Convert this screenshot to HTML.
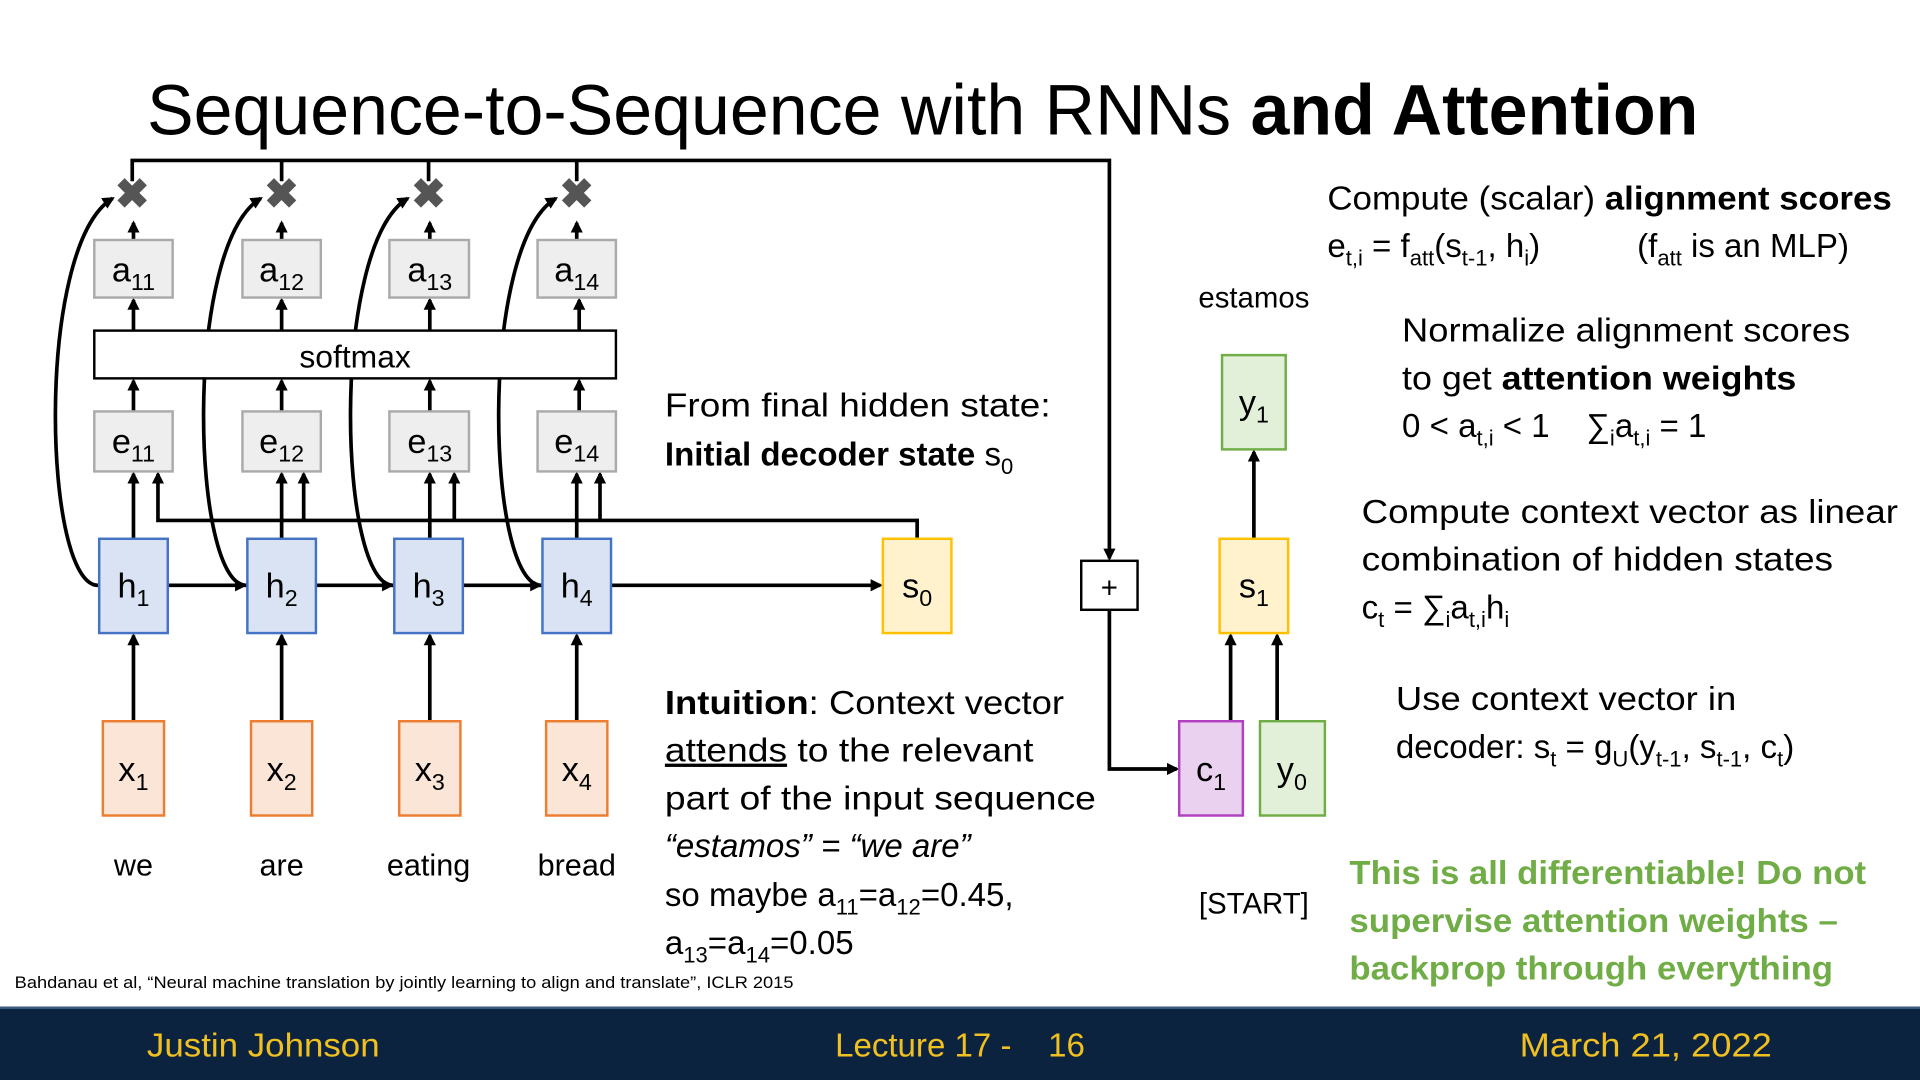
<!DOCTYPE html>
<html><head><meta charset="utf-8"><style>
html,body{margin:0;padding:0;background:#fff;}
svg{display:block;}
text{font-family:"Liberation Sans",sans-serif;fill:#000;white-space:pre;}
</style></head><body>
<svg width="1920" height="1080" viewBox="0 0 1568 882" xmlns="http://www.w3.org/2000/svg">
<defs>
<marker id="ar" markerWidth="10" markerHeight="10" refX="8" refY="5" orient="auto" markerUnits="userSpaceOnUse">
<path d="M0,0 L10,5 L0,10 z" fill="#000"/></marker>
</defs>
<rect width="1568" height="882" fill="#fff"/>
<text x="120" y="110" font-size="58" textLength="1267" lengthAdjust="spacingAndGlyphs">Sequence-to-Sequence with RNNs <tspan font-weight="bold">and Attention</tspan></text>

<g stroke="#000" stroke-width="3" fill="none">
<polyline points="108,148 108,131 906,131 906,456" marker-end="url(#ar)"/>
<line x1="230" y1="131" x2="230" y2="148"/>
<line x1="350" y1="131" x2="350" y2="148"/>
<line x1="471" y1="131" x2="471" y2="148"/>
<polyline points="906,498 906,628 961,628" marker-end="url(#ar)"/>
<line x1="109" y1="196" x2="109" y2="182" marker-end="url(#ar)"/>
<line x1="230" y1="196" x2="230" y2="182" marker-end="url(#ar)"/>
<line x1="351" y1="196" x2="351" y2="182" marker-end="url(#ar)"/>
<line x1="471" y1="196" x2="471" y2="182" marker-end="url(#ar)"/>
<line x1="109" y1="270" x2="109" y2="245" marker-end="url(#ar)"/>
<line x1="230" y1="270" x2="230" y2="245" marker-end="url(#ar)"/>
<line x1="351" y1="270" x2="351" y2="245" marker-end="url(#ar)"/>
<line x1="473" y1="270" x2="473" y2="245" marker-end="url(#ar)"/>
<line x1="109" y1="336" x2="109" y2="311" marker-end="url(#ar)"/>
<line x1="230" y1="336" x2="230" y2="311" marker-end="url(#ar)"/>
<line x1="351" y1="336" x2="351" y2="311" marker-end="url(#ar)"/>
<line x1="473" y1="336" x2="473" y2="311" marker-end="url(#ar)"/>
<line x1="109" y1="440" x2="109" y2="387" marker-end="url(#ar)"/>
<line x1="230" y1="440" x2="230" y2="387" marker-end="url(#ar)"/>
<line x1="351" y1="440" x2="351" y2="387" marker-end="url(#ar)"/>
<line x1="471" y1="440" x2="471" y2="387" marker-end="url(#ar)"/>
<polyline points="749,440 749,425 129,425 129,387" marker-end="url(#ar)"/>
<line x1="248" y1="425" x2="248" y2="387" marker-end="url(#ar)"/>
<line x1="371" y1="425" x2="371" y2="387" marker-end="url(#ar)"/>
<line x1="490" y1="425" x2="490" y2="387" marker-end="url(#ar)"/>
<line x1="137" y1="478" x2="200" y2="478" marker-end="url(#ar)"/>
<line x1="258" y1="478" x2="320" y2="478" marker-end="url(#ar)"/>
<line x1="378" y1="478" x2="441" y2="478" marker-end="url(#ar)"/>
<line x1="499" y1="478" x2="719" y2="478" marker-end="url(#ar)"/>
<line x1="109" y1="589" x2="109" y2="519" marker-end="url(#ar)"/>
<line x1="230" y1="589" x2="230" y2="519" marker-end="url(#ar)"/>
<line x1="351" y1="589" x2="351" y2="519" marker-end="url(#ar)"/>
<line x1="471" y1="589" x2="471" y2="519" marker-end="url(#ar)"/>
<path d="M81,478 C35,482 28,200 92,162" marker-end="url(#ar)"/>
<path d="M202,478 C156,482 149,200 213,162" marker-end="url(#ar)"/>
<path d="M322,478 C276,482 269,200 333,162" marker-end="url(#ar)"/>
<path d="M443,478 C397,482 390,200 454,162" marker-end="url(#ar)"/>
<line x1="1005" y1="589" x2="1005" y2="519" marker-end="url(#ar)"/>
<line x1="1043" y1="589" x2="1043" y2="519" marker-end="url(#ar)"/>
<line x1="1024" y1="440" x2="1024" y2="369" marker-end="url(#ar)"/>
</g>

<g font-size="34" font-weight="bold" text-anchor="middle">
<text x="108" y="170" style="fill:#555">✖</text>
<text x="230" y="170" style="fill:#555">✖</text>
<text x="350" y="170" style="fill:#555">✖</text>
<text x="471" y="170" style="fill:#555">✖</text>
</g>

<g stroke="#aaa" stroke-width="2" fill="#eee">
<rect x="77" y="196" width="64" height="47"/><rect x="198" y="196" width="64" height="47"/>
<rect x="318" y="196" width="65" height="47"/><rect x="439" y="196" width="64" height="47"/>
<rect x="77" y="336" width="64" height="49"/><rect x="198" y="336" width="64" height="49"/>
<rect x="318" y="336" width="65" height="49"/><rect x="439" y="336" width="64" height="49"/>
</g>
<rect x="77" y="270" width="426" height="39" fill="#fff" stroke="#000" stroke-width="2"/>
<g stroke="#4472c4" stroke-width="2" fill="#dae3f3">
<rect x="81" y="440" width="56" height="77"/><rect x="202" y="440" width="56" height="77"/>
<rect x="322" y="440" width="56" height="77"/><rect x="443" y="440" width="56" height="77"/>
</g>
<g stroke="#ed7d31" stroke-width="2" fill="#fbe5d6">
<rect x="84" y="589" width="50" height="77"/><rect x="205" y="589" width="50" height="77"/>
<rect x="326" y="589" width="50" height="77"/><rect x="446" y="589" width="50" height="77"/>
</g>
<rect x="721" y="440" width="56" height="77" fill="#fff2cc" stroke="#ffc000" stroke-width="2"/>
<rect x="996" y="440" width="56" height="77" fill="#fff2cc" stroke="#ffc000" stroke-width="2"/>
<rect x="998" y="290" width="52" height="77" fill="#e2f0d9" stroke="#70ad47" stroke-width="2"/>
<rect x="1029" y="589" width="53" height="77" fill="#e2f0d9" stroke="#70ad47" stroke-width="2"/>
<rect x="963" y="589" width="52" height="77" fill="#ead1f0" stroke="#b040c0" stroke-width="2"/>
<rect x="883" y="458" width="46" height="40" fill="#fff" stroke="#000" stroke-width="2"/>
<text x="906" y="488" font-size="24" text-anchor="middle">+</text>

<g font-size="28" text-anchor="middle">
<text x="109" y="230">a<tspan font-size="19" dy="7">11</tspan></text>
<text x="230" y="230">a<tspan font-size="19" dy="7">12</tspan></text>
<text x="351" y="230">a<tspan font-size="19" dy="7">13</tspan></text>
<text x="471" y="230">a<tspan font-size="19" dy="7">14</tspan></text>
<text x="290" y="300" font-size="26">softmax</text>
<text x="109" y="370">e<tspan font-size="19" dy="7">11</tspan></text>
<text x="230" y="370">e<tspan font-size="19" dy="7">12</tspan></text>
<text x="351" y="370">e<tspan font-size="19" dy="7">13</tspan></text>
<text x="471" y="370">e<tspan font-size="19" dy="7">14</tspan></text>
<text x="109" y="488">h<tspan font-size="19" dy="7">1</tspan></text>
<text x="230" y="488">h<tspan font-size="19" dy="7">2</tspan></text>
<text x="350" y="488">h<tspan font-size="19" dy="7">3</tspan></text>
<text x="471" y="488">h<tspan font-size="19" dy="7">4</tspan></text>
<text x="109" y="638">x<tspan font-size="19" dy="7">1</tspan></text>
<text x="230" y="638">x<tspan font-size="19" dy="7">2</tspan></text>
<text x="351" y="638">x<tspan font-size="19" dy="7">3</tspan></text>
<text x="471" y="638">x<tspan font-size="19" dy="7">4</tspan></text>
<text x="749" y="488">s<tspan font-size="19" dy="7">0</tspan></text>
<text x="1024" y="488">s<tspan font-size="19" dy="7">1</tspan></text>
<text x="1024" y="338">y<tspan font-size="19" dy="7">1</tspan></text>
<text x="1055" y="638">y<tspan font-size="19" dy="7">0</tspan></text>
<text x="989" y="638">c<tspan font-size="19" dy="7">1</tspan></text>
<text x="109" y="715" font-size="25">we</text>
<text x="230" y="715" font-size="25">are</text>
<text x="350" y="715" font-size="25">eating</text>
<text x="471" y="715" font-size="25">bread</text>
<text x="1024" y="251" font-size="24">estamos</text>
<text x="1024" y="746" font-size="24">[START]</text>
</g>

<g font-size="27">
<text x="543" y="340" textLength="315" lengthAdjust="spacingAndGlyphs">From final hidden state:</text>
<text x="543" y="380"><tspan font-weight="bold">Initial decoder state</tspan> s<tspan font-size="18" dy="7">0</tspan></text>
<text x="543" y="583" textLength="326" lengthAdjust="spacingAndGlyphs"><tspan font-weight="bold">Intuition</tspan>: Context vector</text>
<text x="543" y="622" textLength="301" lengthAdjust="spacingAndGlyphs"><tspan text-decoration="underline">attends</tspan> to the relevant</text>
<text x="543" y="661" textLength="352" lengthAdjust="spacingAndGlyphs">part of the input sequence</text>
<text x="543" y="700" font-style="italic">“estamos” = “we are”</text>
<text x="543" y="740">so maybe a<tspan font-size="18" dy="7">11</tspan><tspan dy="-7">=a</tspan><tspan font-size="18" dy="7">12</tspan><tspan dy="-7">=0.45,</tspan></text>
<text x="543" y="779">a<tspan font-size="18" dy="7">13</tspan><tspan dy="-7">=a</tspan><tspan font-size="18" dy="7">14</tspan><tspan dy="-7">=0.05</tspan></text>
</g>

<g font-size="27">
<text x="1084" y="171" textLength="461" lengthAdjust="spacingAndGlyphs">Compute (scalar) <tspan font-weight="bold">alignment scores</tspan></text>
<text x="1084" y="210">e<tspan font-size="18" dy="7">t,i</tspan><tspan dy="-7"> = f</tspan><tspan font-size="18" dy="7">att</tspan><tspan dy="-7">(s</tspan><tspan font-size="18" dy="7">t-1</tspan><tspan dy="-7">, h</tspan><tspan font-size="18" dy="7">i</tspan><tspan dy="-7">)</tspan></text>
<text x="1337" y="210">(f<tspan font-size="18" dy="7">att</tspan><tspan dy="-7"> is an MLP)</tspan></text>
<text x="1145" y="279" textLength="366" lengthAdjust="spacingAndGlyphs">Normalize alignment scores</text>
<text x="1145" y="318" textLength="322" lengthAdjust="spacingAndGlyphs">to get <tspan font-weight="bold">attention weights</tspan></text>
<text x="1145" y="357">0 &lt; a<tspan font-size="18" dy="7">t,i</tspan><tspan dy="-7"> &lt; 1    ∑</tspan><tspan font-size="18" dy="7">i</tspan><tspan dy="-7">a</tspan><tspan font-size="18" dy="7">t,i</tspan><tspan dy="-7"> = 1</tspan></text>
<text x="1112" y="427" textLength="438" lengthAdjust="spacingAndGlyphs">Compute context vector as linear</text>
<text x="1112" y="466" textLength="385" lengthAdjust="spacingAndGlyphs">combination of hidden states</text>
<text x="1112" y="505">c<tspan font-size="18" dy="7">t</tspan><tspan dy="-7"> = ∑</tspan><tspan font-size="18" dy="7">i</tspan><tspan dy="-7">a</tspan><tspan font-size="18" dy="7">t,i</tspan><tspan dy="-7">h</tspan><tspan font-size="18" dy="7">i</tspan></text>
<text x="1140" y="580" textLength="278" lengthAdjust="spacingAndGlyphs">Use context vector in</text>
<text x="1140" y="619">decoder: s<tspan font-size="18" dy="7">t</tspan><tspan dy="-7"> = g</tspan><tspan font-size="18" dy="7">U</tspan><tspan dy="-7">(y</tspan><tspan font-size="18" dy="7">t-1</tspan><tspan dy="-7">, s</tspan><tspan font-size="18" dy="7">t-1</tspan><tspan dy="-7">, c</tspan><tspan font-size="18" dy="7">t</tspan><tspan dy="-7">)</tspan></text>
</g>
<g font-size="27" font-weight="bold">
<text x="1102" y="722" textLength="422" lengthAdjust="spacingAndGlyphs" style="fill:#70ad47">This is all differentiable! Do not</text>
<text x="1102" y="761" textLength="399" lengthAdjust="spacingAndGlyphs" style="fill:#70ad47">supervise attention weights –</text>
<text x="1102" y="800" textLength="395" lengthAdjust="spacingAndGlyphs" style="fill:#70ad47">backprop through everything</text>
</g>

<text x="12" y="807" font-size="13.5" textLength="636" lengthAdjust="spacingAndGlyphs">Bahdanau et al, “Neural machine translation by jointly learning to align and translate”, ICLR 2015</text>

<rect x="0" y="822" width="1568" height="60" fill="#0c2340"/>
<rect x="0" y="822" width="1568" height="2" fill="#3a5a80"/>
<g font-size="27">
<text x="120" y="863" textLength="190" lengthAdjust="spacingAndGlyphs" style="fill:#f0c020">Justin Johnson</text>
<text x="682" y="863" style="fill:#f0c020">Lecture 17 -    16</text>
<text x="1241" y="863" textLength="206" lengthAdjust="spacingAndGlyphs" style="fill:#f0c020">March 21, 2022</text>
</g>
</svg>
</body></html>
